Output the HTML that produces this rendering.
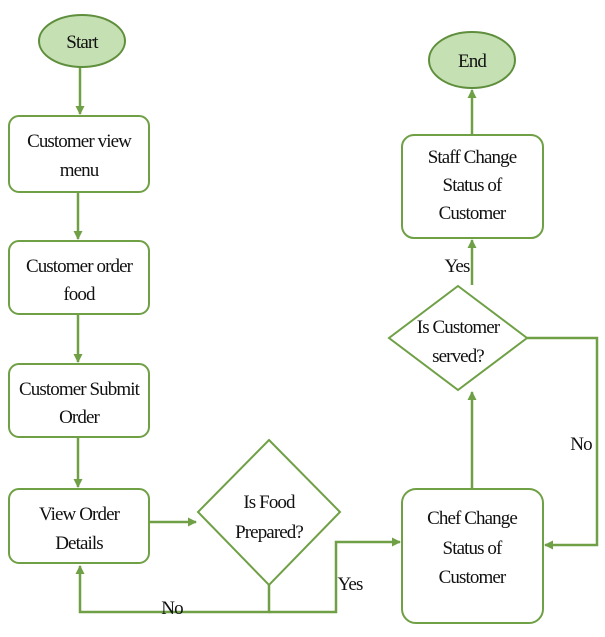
<!DOCTYPE html>
<html><head><meta charset="utf-8"><style>
html,body{margin:0;padding:0;background:#fff;}
svg{display:block;}
text{font-family:"Liberation Serif",serif;font-size:19px;fill:#111;text-anchor:middle;letter-spacing:-0.9px;}
.b{fill:#fff;stroke:#70a046;stroke-width:2;}
.l{fill:none;stroke:#70a046;stroke-width:2.5;}
.e{fill:#c5e0b3;stroke:#5f8f3c;stroke-width:2;}
</style></head><body>
<svg width="605" height="637" viewBox="0 0 605 637" xmlns="http://www.w3.org/2000/svg">
<defs><marker id="a" markerWidth="9" markerHeight="9" refX="8" refY="4.5" orient="auto" markerUnits="userSpaceOnUse"><path d="M0,0 L9,4.5 L0,9 z" fill="#70a046"/></marker></defs>
<line class="l" x1="80" y1="67" x2="80" y2="114" marker-end="url(#a)"/>
<line class="l" x1="78" y1="193" x2="78" y2="239" marker-end="url(#a)"/>
<line class="l" x1="78" y1="315" x2="78" y2="362" marker-end="url(#a)"/>
<line class="l" x1="78" y1="438" x2="78" y2="487" marker-end="url(#a)"/>
<line class="l" x1="150" y1="522" x2="196" y2="522" marker-end="url(#a)"/>
<polyline class="l" points="269,585 269,612 80,612 80,566" marker-end="url(#a)"/>
<polyline class="l" points="269,612 336,612 336,542 400,542" marker-end="url(#a)"/>
<line class="l" x1="472" y1="488" x2="472" y2="392" marker-end="url(#a)"/>
<line class="l" x1="472" y1="285" x2="472" y2="240" marker-end="url(#a)"/>
<line class="l" x1="472" y1="134" x2="472" y2="90" marker-end="url(#a)"/>
<polyline class="l" points="527,338 597,338 597,545 545,545" marker-end="url(#a)"/>
<ellipse class="e" cx="82" cy="41" rx="43" ry="26"/>
<text x="82" y="48">Start</text>
<ellipse class="e" cx="472" cy="60" rx="43" ry="28"/>
<text x="472" y="67">End</text>
<rect class="b" x="9" y="116" width="140" height="76" rx="10"/>
<text x="79" y="147">Customer view</text><text x="79" y="176">menu</text>
<rect class="b" x="9" y="241" width="140" height="73" rx="10"/>
<text x="79" y="272">Customer order</text><text x="79" y="300">food</text>
<rect class="b" x="9" y="364" width="140" height="73" rx="10"/>
<text x="79" y="395">Customer Submit</text><text x="79" y="423">Order</text>
<rect class="b" x="9" y="489" width="140" height="74" rx="10"/>
<text x="79" y="520">View Order</text><text x="79" y="549">Details</text>
<polygon class="b" points="269,440 340,512 269,585 198,512"/>
<text x="269" y="508">Is Food</text><text x="269" y="538">Prepared?</text>
<rect class="b" x="402" y="489" width="141" height="134" rx="14"/>
<text x="472" y="524">Chef Change</text><text x="472" y="554">Status of</text><text x="472" y="583">Customer</text>
<polygon class="b" points="458,286 527,338 458,390 389,338"/>
<text x="458" y="333">Is Customer</text><text x="458" y="362">served?</text>
<rect class="b" x="402" y="135" width="141" height="103" rx="12"/>
<text x="472" y="163">Staff Change</text><text x="472" y="191">Status of</text><text x="472" y="219">Customer</text>
<text x="457" y="272">Yes</text>
<text x="581" y="450">No</text>
<text x="350" y="590">Yes</text>
<text x="172" y="614">No</text>
</svg>
</body></html>
